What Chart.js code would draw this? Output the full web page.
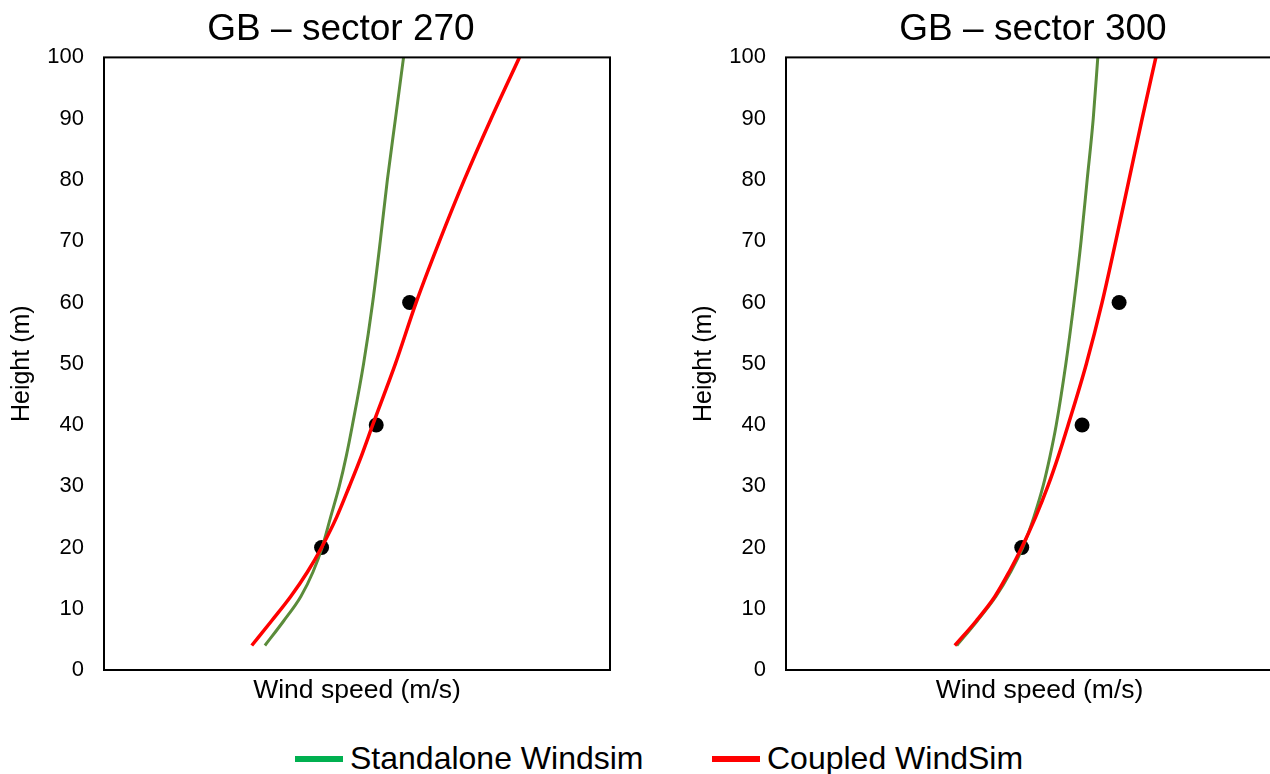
<!DOCTYPE html>
<html>
<head>
<meta charset="utf-8">
<script src="https://cdn.jsdelivr.net/npm/chart.js@4.4.0/dist/chart.umd.min.js"></script>
<style>
  html, body { margin: 0; padding: 0; width: 1270px; height: 774px; overflow: hidden; background: #fff; }
  body { position: relative; font-family: "Liberation Sans", Arial, sans-serif; }
  .panel { position: absolute; top: 0; }
  #p1 { left: 0; }
  #p2 { left: 682px; }
  .leg { position: absolute; top: 740px; height: 36px; line-height: 36px; font-size: 32px; color: #000; white-space: nowrap; }
  .leg span.sw { display: inline-block; width: 48px; height: 6px; vertical-align: middle; margin-right: 7px; position: relative; top: -2px; }
</style>
</head>
<body>
<canvas id="p1" class="panel" width="682" height="720"></canvas>
<canvas id="p2" class="panel" width="702" height="720"></canvas>
<div id="legend"></div>
<script>
// heights (m) shared by the simulated profiles
const heights = [4, 8, 12, 16, 20, 25, 30, 35, 40, 50, 60, 70, 80, 90, 100];

// sector 270 - wind speed along the profile (axis has no tick labels, scale is relative)
const standalone270 = [3.18, 3.55, 3.89, 4.13, 4.31, 4.48, 4.65, 4.79, 4.91, 5.13, 5.31, 5.46, 5.60, 5.76, 5.92];
const coupled270    = [2.92, 3.31, 3.69, 4.02, 4.30, 4.60, 4.85, 5.09, 5.31, 5.76, 6.17, 6.63, 7.12, 7.65, 8.21];

// sector 300
const standalone300 = [3.37, 3.77, 4.14, 4.43, 4.67, 4.89, 5.07, 5.21, 5.33, 5.52, 5.68, 5.82, 5.94, 6.06, 6.15];
const coupled300    = [3.33, 3.75, 4.12, 4.40, 4.65, 4.925, 5.165, 5.375, 5.565, 5.925, 6.235, 6.505, 6.765, 7.025, 7.295];

// measurements
const measHeights = [20, 40, 60];
const meas270 = [4.30, 5.38, 6.04];
const meas300 = [4.65, 5.84, 6.57];

const seriesNames = ['Standalone Windsim', 'Coupled WindSim'];
const legendColors = ['#00b050', '#ff0000'];
const lineColors = ['#5b8c3b', '#ff0000'];

const FONT = '"Liberation Sans", Arial, sans-serif';

const pts = (xs, ys) => xs.map((x, i) => ({ x: x, y: ys[i] }));

// black frame round the plot area
const framePlugin = {
    id: 'frame',
    afterDraw(chart) {
        const a = chart.chartArea;
        const ctx = chart.ctx;
        ctx.save();
        ctx.strokeStyle = '#000';
        ctx.lineWidth = 2;
        ctx.strokeRect(a.left, a.top, a.right - a.left, a.bottom - a.top);
        ctx.restore();
    }
};

const makeChart = (id, title, standalone, coupled, meas, rightGap) => {
    const ctx = document.getElementById(id).getContext('2d');
    return new Chart(ctx, {
        type: 'scatter',
        data: {
            datasets: [
                {
                    label: seriesNames[1],
                    data: pts(coupled, heights),
                    showLine: true,
                    borderColor: lineColors[1],
                    borderWidth: 3.5,
                    pointRadius: 0,
                    cubicInterpolationMode: 'monotone'
                },
                {
                    label: seriesNames[0],
                    data: pts(standalone, heights),
                    showLine: true,
                    borderColor: lineColors[0],
                    borderWidth: 3,
                    pointRadius: 0,
                    cubicInterpolationMode: 'monotone'
                },
                {
                    label: 'Measured',
                    data: pts(meas, measHeights),
                    showLine: false,
                    pointRadius: 7.5,
                    pointBackgroundColor: '#000',
                    pointBorderWidth: 0
                }
            ]
        },
        options: {
            responsive: false,
            animation: false,
            devicePixelRatio: 1,
            layout: { padding: 0 },
            plugins: {
                legend: { display: false },
                tooltip: { enabled: false },
                title: {
                    display: true,
                    text: title,
                    color: '#000',
                    font: { family: FONT, size: 37, weight: 'normal' },
                    padding: { top: 8, bottom: 5 }
                }
            },
            scales: {
                x: {
                    type: 'linear',
                    min: 0,
                    max: 10,
                    ticks: { display: false },
                    grid: { display: false, drawTicks: false },
                    border: { display: false },
                    title: {
                        display: true,
                        text: 'Wind speed (m/s)',
                        color: '#000',
                        font: { family: FONT, size: 26.5 },
                        padding: { top: 0, bottom: 13 }
                    },
                    afterFit: s => { s.height = 50; }
                },
                y: {
                    min: 0,
                    max: 100,
                    ticks: {
                        stepSize: 10,
                        color: '#000',
                        padding: 20,
                        font: { family: FONT, size: 22 }
                    },
                    grid: { display: false, drawTicks: false },
                    border: { display: false },
                    title: {
                        display: true,
                        text: 'Height (m)',
                        color: '#000',
                        font: { family: FONT, size: 25 },
                        padding: { top: 7, bottom: 0 }
                    },
                    afterFit: s => { s.width = 104; }
                },
                // empty right-hand axis, only keeps a blank margin beside the plot
                yr: {
                    position: 'right',
                    min: 0,
                    max: 100,
                    ticks: { display: false },
                    grid: { display: false, drawTicks: false },
                    border: { display: false },
                    afterFit: s => { s.width = rightGap; }
                }
            }
        },
        plugins: [framePlugin]
    });
};

makeChart('p1', 'GB – sector 270', standalone270, coupled270, meas270, 72);
makeChart('p2', 'GB – sector 300', standalone300, coupled300, meas300, 91);

// legend shared by both panels
const legendLeft = [295, 712];
const legend = document.getElementById('legend');
seriesNames.forEach((name, i) => {
    const d = document.createElement('div');
    d.className = 'leg';
    d.style.left = legendLeft[i] + 'px';
    d.innerHTML = '<span class="sw" style="background:' + legendColors[i] + '"></span>' + name;
    legend.appendChild(d);
});
</script>
</body>
</html>
